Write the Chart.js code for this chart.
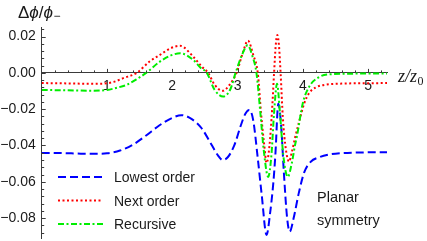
<!DOCTYPE html>
<html>
<head>
<meta charset="utf-8">
<script src="https://cdn.jsdelivr.net/npm/chart.js@4.4.1/dist/chart.umd.min.js"></script>
<style>
  html, body { margin: 0; padding: 0; background: #fff; }
  #wrap { width: 427px; height: 241px; position: relative; }
</style>
</head>
<body>
<div id="wrap"><canvas id="chart"></canvas></div>
<script>
// values (z/z0 against delta phi / phi-)
const seriesNames = ["Lowest order", "Next order", "Recursive"];

const zLowest = [0, 0.3, 0.6, 0.85, 1.0, 1.2, 1.4, 1.6, 1.8, 2.0, 2.14, 2.3, 2.45, 2.6, 2.7, 2.77,
  2.85, 2.95, 3.05, 3.12, 3.18, 3.24, 3.31, 3.37, 3.445, 3.50, 3.55, 3.58, 3.625, 3.67, 3.71,
  3.76, 3.80, 3.86, 3.94, 4.02, 4.12, 4.25, 4.40, 4.6, 5.0, 5.29];
const lowestOrder = [-0.0441, -0.0442, -0.0445, -0.0446, -0.0443, -0.0428, -0.0395, -0.0345,
  -0.0290, -0.0248, -0.0233, -0.0255, -0.0305, -0.0395, -0.0455, -0.0480, -0.0465, -0.0400,
  -0.0290, -0.0225, -0.0204, -0.0260, -0.0470, -0.0670, -0.0893, -0.0770, -0.0600, -0.0450,
  -0.0170, -0.0300, -0.0550, -0.0800, -0.0875, -0.0800, -0.0660, -0.0550, -0.0490, -0.0465,
  -0.0450, -0.0442, -0.0438, -0.0437];

const zNext = [0, 0.4, 0.8, 1.0, 1.1, 1.25, 1.455, 1.66, 1.81, 1.97, 2.12, 2.32, 2.45, 2.55, 2.65,
  2.77, 2.88, 2.985, 3.08, 3.16, 3.24, 3.31, 3.36, 3.41, 3.445, 3.49, 3.53, 3.56, 3.585, 3.61,
  3.635, 3.66, 3.695, 3.74, 3.79, 3.83, 3.88, 3.95, 4.02, 4.1, 4.2, 4.35, 4.6, 5.0, 5.29];
const nextOrder = [-0.0056, -0.0058, -0.0060, -0.0057, -0.0050, -0.0029, 0.0, 0.0065, 0.0099,
  0.0135, 0.0149, 0.0090, 0.0035, 0.0, -0.0066, -0.0099, -0.0065, 0.0, 0.0110, 0.0178, 0.0100,
  0.0, -0.0220, -0.0400, -0.0496, -0.0400, -0.0200, 0.0, 0.0150, 0.0209, 0.0150, 0.0, -0.0250,
  -0.0420, -0.0489, -0.0440, -0.0360, -0.0260, -0.0170, -0.0110, -0.0080, -0.0065, -0.0059,
  -0.0057, -0.0056];

const zRecursive = [0, 0.4, 0.8, 1.0, 1.15, 1.3, 1.45, 1.6, 1.81, 1.97, 2.12, 2.32, 2.43, 2.53,
  2.65, 2.78, 2.89, 2.97, 3.07, 3.155, 3.23, 3.29, 3.35, 3.40, 3.47, 3.52, 3.56, 3.605, 3.65,
  3.70, 3.77, 3.83, 3.88, 3.91, 4.0, 4.1, 4.24, 4.4, 4.8, 5.29];
const recursive = [-0.0094, -0.0096, -0.0098, -0.0094, -0.0082, -0.0066, -0.0036, 0.0, 0.0062,
  0.0095, 0.0108, 0.0072, 0.0030, 0.0, -0.0094, -0.0130, -0.0090, 0.0, 0.0100, 0.0152, 0.0090,
  0.0, -0.0220, -0.0420, -0.0573, -0.0450, -0.0220, -0.0060, -0.0220, -0.0450, -0.0573, -0.0500,
  -0.0400, -0.0350, -0.0167, -0.0075, -0.0025, -0.0008, -0.0004, -0.0003];

const xTickVals = [1, 2, 3, 4, 5];
const yTickVals = [-0.08, -0.06, -0.04, -0.02, 0, 0.02];

const axisColor = "#3a3a3a";
const textColor = "#1a1a1a";
const sans = "'Liberation Sans', Arial, sans-serif";

Chart.defaults.font.family = sans;
Chart.defaults.color = textColor;

function toPoints(xs, ys) {
  return xs.map((x, i) => ({ x: x, y: ys[i] }));
}

// Chart.js reserves half a label above/below the end ticks; the plot box doesn't need it
function noEdgePadding(s) {
  s.paddingTop = 0;
  s.paddingBottom = 0;
  s.paddingLeft = 0;
  s.paddingRight = 0;
}

// minor/major ticks pointing inward, Mathematica style, plus the free text
const decorations = {
  id: "decorations",
  afterDraw(chart) {
    const { ctx, scales: { x, y } } = chart;
    const y0 = y.getPixelForValue(0);
    const x0 = x.getPixelForValue(0);
    ctx.save();
    ctx.strokeStyle = axisColor;
    ctx.lineWidth = 1;
    ctx.beginPath();
    for (let i = 1; i <= 26; i++) {
      const px = Math.round(x.getPixelForValue(i * 0.2)) + 0.5;
      const len = i % 5 === 0 ? 4 : 2.5;
      ctx.moveTo(px, y0);
      ctx.lineTo(px, y0 - len);
    }
    for (let i = -22; i <= 6; i++) {
      const py = Math.round(y.getPixelForValue(i * 0.004)) + 0.5;
      const len = i % 5 === 0 ? 4 : 2.5;
      ctx.moveTo(x0, py);
      ctx.lineTo(x0 + len, py);
    }
    ctx.stroke();

    // legend
    ctx.textBaseline = "alphabetic";
    ctx.textAlign = "left";
    ctx.font = "14px " + sans;
    chart.data.datasets.forEach((ds, i) => {
      const ly = 177 + i * 23.5;
      ctx.strokeStyle = ds.borderColor;
      ctx.lineWidth = ds.borderWidth;
      ctx.setLineDash(ds.borderDash);
      ctx.beginPath();
      ctx.moveTo(58, ly);
      ctx.lineTo(103, ly);
      ctx.stroke();
      ctx.setLineDash([]);
      ctx.fillStyle = textColor;
      ctx.fillText(ds.label, 114, ly + 5);
    });

    ctx.font = "14.5px " + sans;
    ctx.fillText("Planar", 317, 201.5);
    ctx.fillText("symmetry", 317, 225);

    // y label: Δϕ/ϕ₋
    let tx = 18;
    const by = 18;
    const parts = [["Δ", "17px " + sans], ["\u03d5", "italic 17px " + sans], ["/", "17px " + sans], ["\u03d5", "italic 17px " + sans]];
    parts.forEach(([s, f]) => {
      ctx.font = f;
      ctx.fillText(s, tx, by);
      tx += ctx.measureText(s).width;
    });
    ctx.font = "12px " + sans;
    ctx.fillText("\u2212", tx + 0.5, by + 2);

    // x label: z/z0
    const serif = "'Liberation Serif', 'Times New Roman', serif";
    ctx.font = "italic 18px " + serif;
    ctx.fillText("z/z", 398, 82);
    const w = ctx.measureText("z/z").width;
    ctx.font = "12px " + serif;
    ctx.fillText("0", 398 + w + 0.5, 85);
    ctx.restore();
  }
};

new Chart(document.getElementById("chart"), {
  type: "line",
  data: {
    datasets: [
      {
        label: seriesNames[0],
        data: toPoints(zLowest, lowestOrder),
        borderColor: "#0000ff",
        borderWidth: 2,
        borderDash: [8, 4],
        order: 2
      },
      {
        label: seriesNames[1],
        data: toPoints(zNext, nextOrder),
        borderColor: "#ff0000",
        borderWidth: 2,
        borderDash: [2, 2.5],
        order: 1
      },
      {
        label: seriesNames[2],
        data: toPoints(zRecursive, recursive),
        borderColor: "#00ee00",
        borderWidth: 2,
        borderDash: [6, 2.5, 2, 2.5],
        order: 0
      }
    ]
  },
  options: {
    responsive: true,
    maintainAspectRatio: false,
    animation: false,
    devicePixelRatio: 1,
    layout: { padding: { top: 27, right: 40, bottom: 3, left: 0 } },
    elements: {
      point: { radius: 0 },
      line: { cubicInterpolationMode: "monotone", fill: false }
    },
    plugins: {
      legend: { display: false },
      tooltip: { enabled: false }
    },
    scales: {
      x: {
        type: "linear",
        position: { y: 0 },
        min: 0,
        max: 5.29,
        afterFit: noEdgePadding,
        afterBuildTicks: (s) => { s.ticks = xTickVals.map((v) => ({ value: v })); },
        ticks: { font: { size: 14 }, padding: 5, maxRotation: 0, autoSkip: false },
        grid: { display: false, drawTicks: false },
        border: { display: true, color: axisColor, width: 1 }
      },
      y: {
        type: "linear",
        min: -0.091,
        max: 0.0253,
        afterFit: (s) => { s.width = 41.7; noEdgePadding(s); },
        afterBuildTicks: (s) => { s.ticks = yTickVals.map((v) => ({ value: v })); },
        ticks: {
          font: { size: 14 },
          padding: 6,
          autoSkip: false,
          callback: (v) => (v < 0 ? "\u2212" : "") + Math.abs(v).toFixed(2)
        },
        grid: { display: false, drawTicks: false },
        border: { display: true, color: axisColor, width: 1 }
      }
    }
  },
  plugins: [decorations]
});
</script>
</body>
</html>
